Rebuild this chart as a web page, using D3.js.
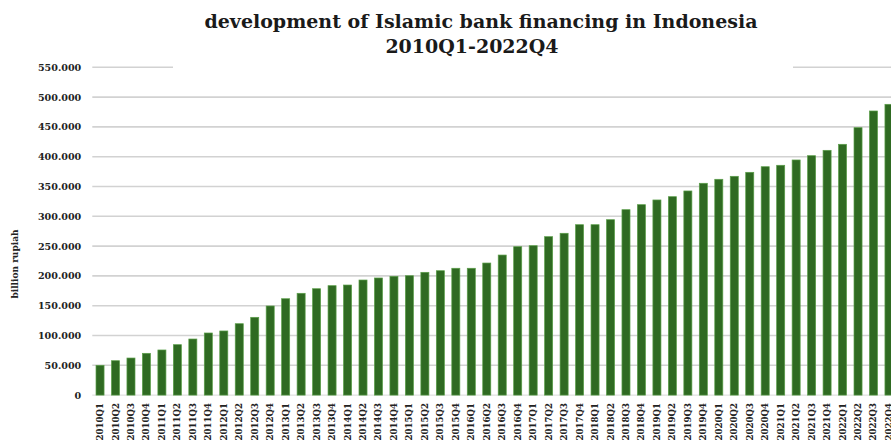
<!DOCTYPE html>
<html>
<head>
<meta charset="utf-8">
<script src="https://cdn.jsdelivr.net/npm/d3@7"></script>
<style>
  html, body { margin: 0; padding: 0; background: #fff; overflow: hidden; }
  svg { display: block; }
</style>
</head>
<body>
<svg id="chart" width="891" height="443"></svg>
<script>
// Quarterly periods, 2010Q1 – 2022Q4
const quarters = [
  "2010Q1","2010Q2","2010Q3","2010Q4","2011Q1","2011Q2","2011Q3","2011Q4",
  "2012Q1","2012Q2","2012Q3","2012Q4","2013Q1","2013Q2","2013Q3","2013Q4",
  "2014Q1","2014Q2","2014Q3","2014Q4","2015Q1","2015Q2","2015Q3","2015Q4",
  "2016Q1","2016Q2","2016Q3","2016Q4","2017Q1","2017Q2","2017Q3","2017Q4",
  "2018Q1","2018Q2","2018Q3","2018Q4","2019Q1","2019Q2","2019Q3","2019Q4",
  "2020Q1","2020Q2","2020Q3","2020Q4","2021Q1","2021Q2","2021Q3","2021Q4",
  "2022Q1","2022Q2","2022Q3","2022Q4"
];

// Islamic bank financing, billion rupiah
const financing = [
  50000, 57700, 62200, 70100, 75700, 84600, 94100, 104200,
  107600, 119800, 130500, 149500, 161700, 170800, 178500, 183600,
  184700, 193100, 196500, 199300, 200300, 206000, 208700, 212800,
  212800, 221600, 235000, 249000, 250700, 265800, 271500, 285900,
  285900, 294300, 311100, 319500, 327400, 332900, 342500, 355400,
  362100, 367100, 373800, 383200, 385600, 394500, 401700, 410700,
  420800, 448700, 476700, 487900
];

const yTicks = [0, 50000, 100000, 150000, 200000, 250000, 300000, 350000, 400000, 450000, 500000, 550000];

const titleLines = ["development of Islamic bank financing in Indonesia", "2010Q1-2022Q4"];
const yTitle = "billion rupiah";

const svg = d3.select("#chart");
const serif = "'DejaVu Serif', 'Liberation Serif', serif";

const plot = { left: 92.3, right: 896.7, top: 67.3, bottom: 395.1 };

const x = d3.scaleBand()
  .domain(quarters)
  .range([plot.left, plot.right])
  .paddingInner(0.48)
  .paddingOuter(0.24);

const y = d3.scaleLinear()
  .domain([0, 550000])
  .range([plot.bottom, plot.top]);

const fmt = v => d3.format(",")(v).replace(/,/g, ".");

// horizontal gridlines
svg.append("g")
  .attr("class", "grid")
  .selectAll("line")
  .data(yTicks.filter(t => t > 0))
  .join("line")
  .attr("x1", plot.left)
  .attr("x2", plot.right)
  .attr("y1", d => y(d))
  .attr("y2", d => y(d))
  .attr("stroke", "#d2d2d2")
  .attr("stroke-width", 1.6);

// baseline
svg.append("line")
  .attr("x1", plot.left).attr("x2", plot.right)
  .attr("y1", y(0)).attr("y2", y(0))
  .attr("stroke", "#d9d9d9").attr("stroke-width", 1);

// bars
svg.append("g")
  .selectAll("rect")
  .data(financing)
  .join("rect")
  .attr("x", (d, i) => x(quarters[i]))
  .attr("width", x.bandwidth())
  .attr("y", d => y(d))
  .attr("height", d => y(0) - y(d))
  .attr("fill", "#2f6a22")
  .attr("stroke", "#5a9e48")
  .attr("stroke-width", 0.7);

// y axis labels
const yAxis = d3.axisLeft(y)
  .tickValues(yTicks)
  .tickFormat(fmt)
  .tickSize(0)
  .tickPadding(11);

const yg = svg.append("g")
  .attr("transform", `translate(${plot.left},0)`)
  .call(yAxis);
yg.select(".domain").remove();
yg.selectAll("text")
  .attr("font-family", serif)
  .attr("font-size", 9.6)
  .attr("font-weight", "bold")
  .attr("fill", "#222");

// x axis labels, rotated
const xAxis = d3.axisBottom(x).tickSize(0).tickPadding(0);
const xg = svg.append("g")
  .attr("transform", `translate(0,${plot.bottom})`)
  .call(xAxis);
xg.select(".domain").remove();
xg.selectAll("text")
  .attr("font-family", serif)
  .attr("font-size", 8.6)
  .attr("font-weight", "bold")
  .attr("fill", "#222")
  .attr("text-anchor", "end")
  .attr("dy", null)
  .attr("transform", "translate(3,8) rotate(-90)")
  .attr("y", 0)
  .attr("x", 0);

// y axis title
svg.append("text")
  .attr("transform", "translate(18,264) rotate(-90)")
  .attr("text-anchor", "middle")
  .attr("font-family", serif)
  .attr("font-size", 9)
  .attr("font-weight", "bold")
  .attr("fill", "#222")
  .text(yTitle);

// title with white backdrop over the top gridline
svg.append("rect")
  .attr("x", 173).attr("y", 4)
  .attr("width", 620).attr("height", 70)
  .attr("fill", "#fff");

const title = svg.append("text")
  .attr("text-anchor", "middle")
  .attr("font-family", serif)
  .attr("font-weight", "bold")
  .attr("font-size", 19)
  .attr("fill", "#1a1a1a");
title.append("tspan").attr("x", 481).attr("y", 28).text(titleLines[0]);
title.append("tspan").attr("x", 472).attr("y", 53).text(titleLines[1]);
</script>
</body>
</html>
